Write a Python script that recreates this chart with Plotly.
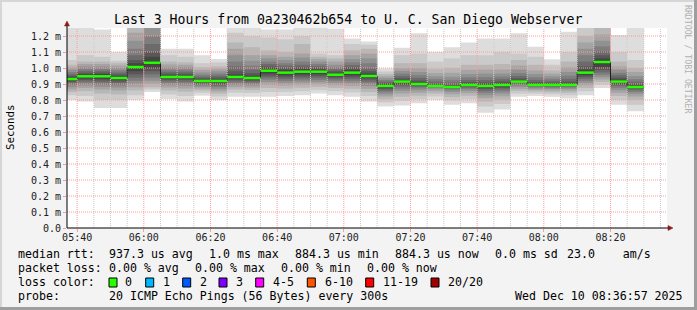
import plotly.graph_objects as go

# ---------------- data ----------------
title_text = "Last 3 Hours from 0a230462b654 to U. C. San Diego Webserver"

bar_end = ["05:40", "05:45", "05:50", "05:55", "06:00", "06:05", "06:10", "06:15",
           "06:20", "06:25", "06:30", "06:35", "06:40", "06:45", "06:50", "06:55",
           "07:00", "07:05", "07:10", "07:15", "07:20", "07:25", "07:30", "07:35",
           "07:40", "07:45", "07:50", "07:55", "08:00", "08:05", "08:10", "08:15",
           "08:20", "08:25", "08:30"]

median_ms = [0.931, 0.948, 0.948, 0.9375, 1.006, 1.033, 0.944, 0.944,
             0.919, 0.919, 0.944, 0.9375, 0.983, 0.971, 0.977, 0.977,
             0.958, 0.971, 0.950, 0.8875, 0.915, 0.900, 0.8875, 0.881,
             0.894, 0.8875, 0.894, 0.915, 0.894, 0.894, 0.894, 0.971,
             1.0375, 0.915, 0.881]

# 20 sorted ping round-trip times (ms) per 5-minute step
pings_ms = [
    [0.800, 0.830, 0.850, 0.865, 0.880, 0.893, 0.905, 0.913, 0.920, 0.927, 0.935, 0.943, 0.952, 0.962, 0.975, 0.990, 1.005, 1.020, 1.050, 1.260],
    [0.790, 0.825, 0.855, 0.875, 0.890, 0.903, 0.915, 0.925, 0.935, 0.944, 0.952, 0.960, 0.970, 0.982, 0.995, 1.010, 1.025, 1.040, 1.080, 1.255],
    [0.750, 0.800, 0.840, 0.865, 0.882, 0.897, 0.910, 0.922, 0.932, 0.943, 0.953, 0.962, 0.972, 0.983, 0.995, 1.010, 1.025, 1.040, 1.070, 1.240],
    [0.750, 0.800, 0.835, 0.860, 0.878, 0.892, 0.905, 0.915, 0.925, 0.934, 0.941, 0.950, 0.960, 0.972, 0.985, 1.000, 1.015, 1.030, 1.045, 1.100],
    [0.800, 0.830, 0.860, 0.880, 0.900, 0.920, 0.940, 0.960, 0.980, 1.000, 1.012, 1.030, 1.050, 1.080, 1.120, 1.170, 1.220, 1.270, 1.320, 1.400],
    [0.850, 0.865, 0.880, 0.900, 0.920, 0.940, 0.960, 0.980, 1.000, 1.025, 1.041, 1.070, 1.100, 1.150, 1.200, 1.270, 1.330, 1.400, 1.500, 1.600],
    [0.806, 0.835, 0.860, 0.878, 0.892, 0.905, 0.916, 0.926, 0.934, 0.941, 0.947, 0.955, 0.965, 0.977, 0.990, 1.005, 1.022, 1.040, 1.080, 1.120],
    [0.790, 0.825, 0.852, 0.872, 0.888, 0.902, 0.914, 0.925, 0.934, 0.941, 0.947, 0.955, 0.965, 0.977, 0.990, 1.005, 1.020, 1.035, 1.070, 1.120],
    [0.827, 0.845, 0.860, 0.872, 0.882, 0.891, 0.899, 0.906, 0.912, 0.917, 0.922, 0.928, 0.936, 0.946, 0.958, 0.972, 0.988, 1.005, 1.030, 1.080],
    [0.800, 0.822, 0.840, 0.855, 0.868, 0.880, 0.890, 0.900, 0.908, 0.916, 0.922, 0.930, 0.940, 0.952, 0.965, 0.980, 0.995, 1.010, 1.035, 1.056],
    [0.820, 0.845, 0.865, 0.880, 0.893, 0.905, 0.916, 0.926, 0.934, 0.941, 0.947, 0.960, 0.980, 1.010, 1.040, 1.080, 1.120, 1.160, 1.220, 1.300],
    [0.820, 0.843, 0.862, 0.877, 0.890, 0.901, 0.911, 0.920, 0.928, 0.934, 0.941, 0.952, 0.968, 0.990, 1.015, 1.045, 1.080, 1.130, 1.200, 1.280],
    [0.820, 0.850, 0.875, 0.895, 0.912, 0.927, 0.940, 0.952, 0.965, 0.978, 0.988, 0.998, 1.010, 1.025, 1.040, 1.060, 1.080, 1.110, 1.190, 1.240],
    [0.825, 0.850, 0.872, 0.890, 0.905, 0.918, 0.930, 0.942, 0.954, 0.966, 0.976, 0.987, 1.000, 1.015, 1.030, 1.050, 1.070, 1.100, 1.180, 1.240],
    [0.830, 0.855, 0.877, 0.895, 0.910, 0.923, 0.936, 0.948, 0.960, 0.972, 0.982, 0.992, 1.005, 1.020, 1.040, 1.065, 1.090, 1.150, 1.200, 1.255],
    [0.840, 0.862, 0.882, 0.898, 0.912, 0.925, 0.938, 0.950, 0.962, 0.973, 0.981, 0.990, 1.000, 1.012, 1.025, 1.040, 1.055, 1.070, 1.090, 1.255],
    [0.830, 0.855, 0.875, 0.892, 0.906, 0.918, 0.929, 0.939, 0.948, 0.955, 0.961, 0.970, 0.980, 0.992, 1.005, 1.020, 1.040, 1.060, 1.080, 1.245],
    [0.820, 0.847, 0.870, 0.888, 0.903, 0.917, 0.930, 0.942, 0.954, 0.966, 0.976, 0.988, 1.002, 1.018, 1.035, 1.055, 1.080, 1.110, 1.150, 1.185],
    [0.790, 0.825, 0.850, 0.870, 0.887, 0.902, 0.915, 0.928, 0.938, 0.946, 0.954, 0.965, 0.980, 1.000, 1.030, 1.060, 1.090, 1.120, 1.145, 1.165],
    [0.760, 0.785, 0.805, 0.822, 0.836, 0.848, 0.859, 0.868, 0.876, 0.884, 0.891, 0.898, 0.906, 0.915, 0.925, 0.936, 0.948, 0.962, 0.978, 0.998],
    [0.765, 0.795, 0.820, 0.840, 0.857, 0.871, 0.884, 0.895, 0.903, 0.909, 0.916, 0.925, 0.936, 0.950, 0.965, 0.982, 1.000, 1.030, 1.080, 1.127],
    [0.780, 0.805, 0.827, 0.845, 0.860, 0.872, 0.882, 0.890, 0.895, 0.898, 0.902, 0.910, 0.922, 0.938, 0.955, 0.975, 1.000, 1.030, 1.090, 1.217],
    [0.800, 0.822, 0.840, 0.855, 0.867, 0.876, 0.881, 0.884, 0.886, 0.887, 0.889, 0.894, 0.902, 0.915, 0.930, 0.948, 0.968, 0.995, 1.040, 1.100],
    [0.770, 0.797, 0.818, 0.836, 0.850, 0.861, 0.869, 0.875, 0.878, 0.880, 0.882, 0.887, 0.896, 0.910, 0.926, 0.945, 0.970, 1.000, 1.060, 1.130],
    [0.780, 0.805, 0.826, 0.843, 0.857, 0.868, 0.877, 0.884, 0.889, 0.892, 0.896, 0.902, 0.912, 0.926, 0.942, 0.962, 0.988, 1.020, 1.080, 1.160],
    [0.720, 0.760, 0.790, 0.812, 0.830, 0.845, 0.858, 0.869, 0.878, 0.885, 0.890, 0.898, 0.910, 0.925, 0.943, 0.965, 0.990, 1.020, 1.080, 1.185],
    [0.740, 0.775, 0.802, 0.823, 0.840, 0.853, 0.865, 0.875, 0.884, 0.891, 0.897, 0.905, 0.916, 0.930, 0.946, 0.965, 0.990, 1.025, 1.100, 1.185],
    [0.820, 0.840, 0.857, 0.870, 0.882, 0.892, 0.900, 0.906, 0.911, 0.913, 0.917, 0.924, 0.935, 0.950, 0.968, 0.990, 1.015, 1.050, 1.090, 1.217],
    [0.825, 0.840, 0.853, 0.863, 0.871, 0.878, 0.884, 0.888, 0.891, 0.893, 0.896, 0.902, 0.912, 0.926, 0.942, 0.962, 0.985, 1.020, 1.070, 1.133],
    [0.820, 0.836, 0.849, 0.860, 0.869, 0.876, 0.882, 0.887, 0.890, 0.893, 0.896, 0.901, 0.909, 0.920, 0.933, 0.948, 0.965, 0.985, 1.020, 1.054],
    [0.810, 0.830, 0.846, 0.859, 0.869, 0.877, 0.883, 0.887, 0.890, 0.892, 0.896, 0.903, 0.915, 0.932, 0.952, 0.975, 1.005, 1.040, 1.100, 1.227],
    [0.830, 0.855, 0.875, 0.892, 0.907, 0.920, 0.932, 0.944, 0.955, 0.966, 0.976, 0.990, 1.010, 1.040, 1.080, 1.120, 1.160, 1.200, 1.260, 1.320],
    [0.875, 0.895, 0.912, 0.928, 0.943, 0.957, 0.972, 0.988, 1.005, 1.030, 1.045, 1.060, 1.080, 1.105, 1.135, 1.170, 1.210, 1.260, 1.320, 1.400],
    [0.770, 0.800, 0.825, 0.845, 0.862, 0.876, 0.888, 0.898, 0.905, 0.911, 0.919, 0.928, 0.940, 0.955, 0.970, 0.990, 1.010, 1.040, 1.100, 1.206],
    [0.730, 0.770, 0.800, 0.822, 0.838, 0.851, 0.861, 0.869, 0.875, 0.879, 0.883, 0.890, 0.900, 0.914, 0.930, 0.950, 0.975, 1.000, 1.050, 1.260],
]

y_tickvals = [0.0, 0.1, 0.2, 0.3, 0.4, 0.5, 0.6, 0.7, 0.8, 0.9, 1.0, 1.1, 1.2]
y_ticktext = ["0.0", "0.1 m", "0.2 m", "0.3 m", "0.4 m", "0.5 m", "0.6 m",
              "0.7 m", "0.8 m", "0.9 m", "1.0 m", "1.1 m", "1.2 m"]
x_ticklabels = ["05:40", "06:00", "06:20", "06:40", "07:00", "07:20", "07:40", "08:00", "08:20"]
window_start = "05:36:57"
window_end = "08:36:57"
y_top = 1.25
step_min = 5

loss_labels = ["0", "1", "2", "3", "4-5", "6-10", "11-19", "20/20"]
loss_colors = ["#26ff00", "#00b8ff", "#0059ff", "#7e00ff", "#ff00ff", "#ff5500", "#ff0000", "#a10000"]

legend_line1 = [("median rtt:", 16), ("937.3 us avg", 107.3), ("1.0 ms max", 207.3),
                ("884.3 us min", 293.3), ("884.3 us now", 393.3), ("0.0 ms sd", 493.3),
                ("23.0    am/s", 565)]
legend_line2 = [("packet loss:", 16), ("0.00 % avg", 107.3), ("0.00 % max", 193.3),
                ("0.00 % min", 279.3), ("0.00 % now", 365)]
legend_line4 = [("probe:", 16), ("20 ICMP Echo Pings (56 Bytes) every 300s", 107.3),
                ("Wed Dec 10 08:36:57 2025", 512.7)]
loss_box_x = [109, 145.7, 182.7, 219, 255.7, 307.3, 365.7, 431]
loss_label_x = [123.3, 161, 197.7, 234.3, 270.7, 322.7, 380.7, 445.7]


def tmin(s):
    parts = [int(v) for v in s.split(":")]
    m = parts[0] * 60 + parts[1]
    if len(parts) > 2:
        m += parts[2] / 60.0
    return m


# ---------------- geometry of the figure ----------------
W, H = 697, 310
L, R, T, B = 67, 667, 28, 228
FONT = "DejaVu Sans Mono"


def px(x):
    return (x - L) / (R - L)


def py(y):
    return (B - y) / (B - T)


fig = go.Figure()
shapes = []
x_lo, x_hi = tmin(window_start), tmin(window_end)

# smoke: 10 nested bands per step
n = 20
half = n // 2
for end, p in zip(bar_end, pings_ms):
    t1 = tmin(end)
    t0 = t1 - step_min
    for k in range(half):
        g = int(190 / half * (half - (k + 1))) + 50
        shapes.append(dict(type="rect", xref="x", yref="y", x0=t0, x1=t1,
                           y0=p[k], y1=p[n - 1 - k], line=dict(width=0),
                           fillcolor=f"rgb({g},{g},{g})", layer="below"))

major_x = [tmin(s) for s in x_ticklabels]
minor_x = [tmin(s) for s in bar_end if tmin(s) not in major_x]
minor_x.append(tmin(bar_end[-1]) + step_min)

# grid lines drawn over the smoke (same layer, later in order), below the median line
grid_major = "#ff9a9a"
grid_minor = "#c8c8c8"
for xv in minor_x:
    shapes.append(dict(type="line", xref="x", yref="y", x0=xv, x1=xv, y0=0, y1=y_top,
                       line=dict(color=grid_minor, width=1, dash="1px,1px"), layer="below"))
for xv in major_x:
    shapes.append(dict(type="line", xref="x", yref="y", x0=xv, x1=xv, y0=0, y1=y_top,
                       line=dict(color=grid_major, width=1, dash="1px,1px"), layer="below"))
for yv in y_tickvals[1:]:
    shapes.append(dict(type="line", xref="x", yref="y", x0=x_lo, x1=x_hi, y0=yv, y1=yv,
                       line=dict(color=grid_major, width=1, dash="1px,1px"), layer="below"))

# median step line (dark) and green median segments
sx, sy, gx, gy = [], [], [], []
for end, m in zip(bar_end, median_ms):
    t1 = tmin(end)
    t0 = t1 - step_min
    sx += [t0, t1]
    sy += [m, m]
    gx += [t0, t1, None]
    gy += [m, m, None]
fig.add_trace(go.Scatter(x=sx, y=sy, mode="lines", line=dict(color="#202020", width=1),
                         hoverinfo="skip", showlegend=False))
fig.add_trace(go.Scatter(x=gx, y=gy, mode="lines", line=dict(color=loss_colors[0], width=2.5),
                         hoverinfo="skip", showlegend=False))

# frame / decorations
shapes += [
    dict(type="rect", xref="paper", yref="paper", x0=px(0), x1=px(697), y0=py(0), y1=py(2),
         fillcolor="#d6d6d6", line=dict(width=0), layer="below"),
    dict(type="rect", xref="paper", yref="paper", x0=px(0), x1=px(2), y0=py(0), y1=py(310),
         fillcolor="#d6d6d6", line=dict(width=0), layer="below"),
    dict(type="rect", xref="paper", yref="paper", x0=px(694), x1=px(697), y0=py(0), y1=py(310),
         fillcolor="#9e9e9e", line=dict(width=0), layer="below"),
    dict(type="rect", xref="paper", yref="paper", x0=px(0), x1=px(697), y0=py(307), y1=py(310),
         fillcolor="#9e9e9e", line=dict(width=0), layer="below"),
    # axis extensions + arrows
    dict(type="line", xref="paper", yref="paper", x0=px(67), x1=px(67), y0=py(228), y1=py(24),
         line=dict(color="#000000", width=1), layer="above"),
    dict(type="line", xref="paper", yref="paper", x0=px(67), x1=px(670), y0=py(228), y1=py(228),
         line=dict(color="#000000", width=1), layer="above"),
    dict(type="path", xref="paper", yref="paper",
         path=f"M {px(64.5)},{py(26)} L {px(69.5)},{py(26)} L {px(67)},{py(21)} Z",
         fillcolor="#8b1a1a", line=dict(color="#8b1a1a", width=0.5), layer="above"),
    dict(type="path", xref="paper", yref="paper",
         path=f"M {px(668)},{py(225.5)} L {px(668)},{py(230.5)} L {px(673)},{py(228)} Z",
         fillcolor="#8b1a1a", line=dict(color="#8b1a1a", width=0.5), layer="above"),
]

annotations = []
annotations.append(dict(text=title_text, xref="paper", yref="paper", x=px(348), y=py(19),
                        xanchor="center", yanchor="middle", showarrow=False,
                        font=dict(family=FONT, size=13.2, color="#000000")))
annotations.append(dict(text="Seconds", xref="paper", yref="paper", x=px(10), y=py(127),
                        xanchor="center", yanchor="middle", showarrow=False, textangle=-90,
                        font=dict(family=FONT, size=10.8, color="#000000")))
annotations.append(dict(text="RRDTOOL / TOBI OETIKER", xref="paper", yref="paper", x=px(688), y=py(59),
                        xanchor="center", yanchor="middle", showarrow=False, textangle=90,
                        font=dict(family=FONT, size=8.2, color="#b0b0b0")))

LEG = 11.6
for txt, x in legend_line1:
    annotations.append(dict(text=txt, xref="paper", yref="paper", x=px(x), y=py(254.3),
                            xanchor="left", yanchor="middle", showarrow=False,
                            font=dict(family=FONT, size=LEG, color="#000000")))
for txt, x in legend_line2:
    annotations.append(dict(text=txt, xref="paper", yref="paper", x=px(x), y=py(268.3),
                            xanchor="left", yanchor="middle", showarrow=False,
                            font=dict(family=FONT, size=LEG, color="#000000")))
annotations.append(dict(text="loss color:", xref="paper", yref="paper", x=px(16), y=py(282.3),
                        xanchor="left", yanchor="middle", showarrow=False,
                        font=dict(family=FONT, size=LEG, color="#000000")))
for lab, col, bx, lx in zip(loss_labels, loss_colors, loss_box_x, loss_label_x):
    shapes.append(dict(type="rect", xref="paper", yref="paper", x0=px(bx), x1=px(bx + 8),
                       y0=py(278), y1=py(287), fillcolor=col,
                       line=dict(color="#000000", width=1), layer="above"))
    annotations.append(dict(text=lab, xref="paper", yref="paper", x=px(lx), y=py(282.3),
                            xanchor="left", yanchor="middle", showarrow=False,
                            font=dict(family=FONT, size=LEG, color="#000000")))
for txt, x in legend_line4:
    annotations.append(dict(text=txt, xref="paper", yref="paper", x=px(x), y=py(295.7),
                            xanchor="left", yanchor="middle", showarrow=False,
                            font=dict(family=FONT, size=LEG, color="#000000")))

fig.update_layout(
    width=W, height=H, autosize=False,
    margin=dict(l=L, r=W - R, t=T, b=H - B, pad=0),
    paper_bgcolor="#f3f3f3", plot_bgcolor="#ffffff",
    showlegend=False,
    shapes=shapes, annotations=annotations,
    xaxis=dict(range=[x_lo, x_hi],
               tickvals=major_x, ticktext=x_ticklabels,
               showgrid=False, zeroline=False, showline=False,
               ticks="outside", ticklen=3, tickcolor=grid_major, ticklabelstandoff=-3,
               tickfont=dict(family=FONT, size=10, color="#202020"),
               fixedrange=True),
    yaxis=dict(range=[0, y_top], tickvals=y_tickvals, ticktext=y_ticktext,
               showgrid=False, zeroline=False, showline=False,
               ticks="outside", ticklen=3, tickcolor=grid_major,
               tickfont=dict(family=FONT, size=10, color="#202020"),
               fixedrange=True),
)

fig.write_html("out.html")
